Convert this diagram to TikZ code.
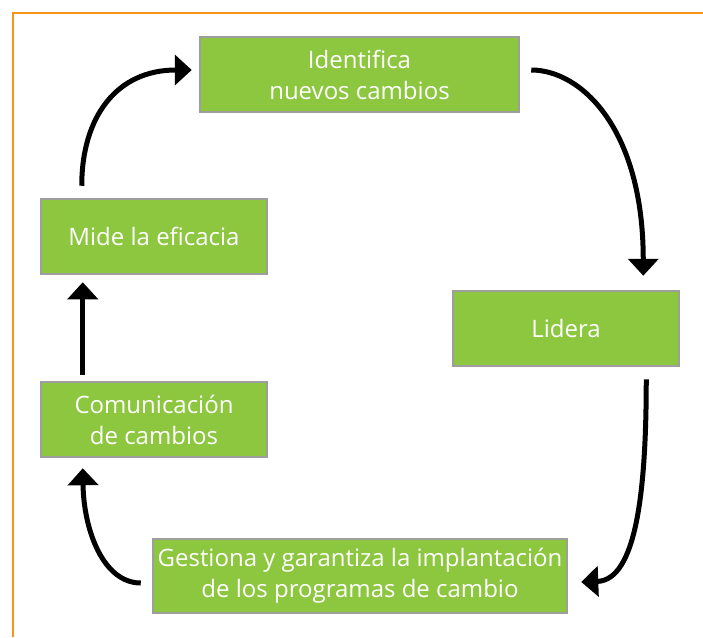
\documentclass[tikz,border=0pt]{standalone}
\usepackage{fontspec}
\setmainfont{Open Sans}
\usetikzlibrary{arrows.meta,calc}
\definecolor{boxgreen}{RGB}{141,198,63}
\definecolor{boxgray}{RGB}{158,158,158}
\definecolor{frameorange}{RGB}{247,148,29}
\begin{document}
\begin{tikzpicture}[x=1pt,y=1pt,
  stepbox/.style={rectangle, draw=boxgray, line width=2.5pt, fill=boxgreen,
    text=white, align=center, inner sep=0pt,
    font=\fontsize{24}{31}\selectfont},
  flow/.style={line width=5pt, -{Triangle[width=30pt,length=17pt]}}]
\useasboundingbox (0,0) rectangle (703,-637);
\draw[frameorange, line width=2pt] (13,-637) -- (13,-12.5) -- (703,-12.5);

\node[stepbox, minimum width=319pt, minimum height=75pt] (ident) at (359.5,-74.5) {Identifica\\nuevos cambios};
\node[stepbox, minimum width=226pt, minimum height=75pt] (lidera) at (566,-328.5) {Lidera};
\node[stepbox, minimum width=414pt, minimum height=74pt] (gest) at (360,-576) {Gestiona y garantiza la implantación\\de los programas de cambio};
\node[stepbox, minimum width=226pt, minimum height=75pt] (comun) at (154,-419.5) {Comunicación\\de cambios};
\node[stepbox, minimum width=226pt, minimum height=75pt] (mide) at (154,-236.5) {Mide la eficacia};

\draw[flow] ($(mide.north west)+(42,12)$) .. controls +(0,69) and +(-75,0) .. ($(ident.west)+(-7,4.5)$);
\draw[flow] ($(ident.east)+(11,4.5)$) .. controls +(50,0) and +(0,147) .. ($(lidera.north east)+(-37,14)$);
\draw[flow] ($(lidera.south east)+(-34,-12)$) .. controls +(0,-112) and +(55,2) .. ($(gest.east)+(13,-6)$);
\draw[flow] ($(gest.west)+(-11,-7)$) .. controls +(-37,0) and +(1,-63) .. ($(comun.south west)+(43,-10)$);
\draw[flow] ($(comun.north west)+(43,6)$) -- ($(mide.south west)+(43,-7)$);
\end{tikzpicture}
\end{document}
